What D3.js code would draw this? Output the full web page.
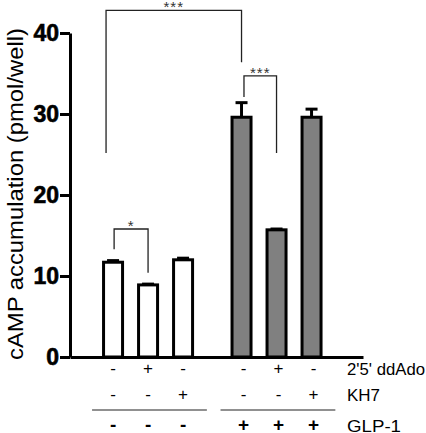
<!DOCTYPE html>
<html>
<head>
<meta charset="utf-8">
<script src="https://d3js.org/d3.v7.min.js"></script>
<style>
  body { margin: 0; background: #fff; }
  text { font-family: "Liberation Sans", Arial, sans-serif; }
</style>
</head>
<body>
<div id="chart"></div>
<script>
// Bar data: group 0 = no GLP-1, group 1 = with GLP-1
const groups = [0, 0, 0, 1, 1, 1];
const means = [11.7, 8.9, 12.0, 29.6, 15.7, 29.6];
const errors = [0.2, 0.1, 0.2, 1.8, 0.1, 1.0];
const yTicks = [0, 10, 20, 30, 40];

// Treatment rows below the axis
const rowNames = ["2'5' ddAdo", "KH7", "GLP-1"];
const ddAdo = ["-", "+", "-", "-", "+", "-"];
const kh7 = ["-", "-", "+", "-", "-", "+"];
const glp1 = ["-", "-", "-", "+", "+", "+"];

// Significance brackets: bar indexes, bracket height and leg ends (in data units)
const brackets = [
    { from: 0, to: 3, level: 42.8, leftEnd: 25.2, rightEnd: 36.4, label: "***", shift: -0.2 },
    { from: 3, to: 4, level: 34.7, leftEnd: 32.1, rightEnd: 25.2, label: "***", shift: 0.07 },
    { from: 0, to: 1, level: 15.8, leftEnd: 13.3, rightEnd: 10.4, label: "*", shift: 0.03 }
];

const width = 426, height = 433;
const svg = d3.select("#chart")
    .append("svg")
    .attr("width", width)
    .attr("height", height);

// slot = bar index plus a gap between the two groups
const groupGap = 0.67;
const slot = i => i + groups[i] * groupGap;

const x = d3.scaleLinear().domain([-1.23, 7.14]).range([70, 363]);
const y = d3.scaleLinear().domain([0, 40]).range([357, 33]);

const barW = 19;

// y axis
const yAxis = svg.append("g")
    .attr("transform", `translate(${x.range()[0]},0)`)
    .call(d3.axisLeft(y).tickValues(yTicks).tickSize(10).tickSizeOuter(0).tickPadding(1));
yAxis.select(".domain").attr("stroke-width", 3);
yAxis.selectAll(".tick line").attr("stroke-width", 3);
yAxis.selectAll(".tick text")
    .attr("font-size", 23)
    .attr("font-weight", "bold")
    .attr("fill", "#000")
    .attr("stroke", "#000")
    .attr("stroke-width", 0.6)
    .attr("font-family", "'Liberation Sans', Arial, sans-serif");

svg.append("text")
    .attr("transform", `translate(23,${(y(0) + 28 + 3) / 2}) rotate(-90)`)
    .attr("text-anchor", "middle")
    .attr("font-size", 21.5)
    .attr("textLength", 332)
    .attr("lengthAdjust", "spacingAndGlyphs")
    .text("cAMP accumulation (pmol/well)");

// bars
svg.append("g")
    .selectAll("rect")
    .data(means)
    .enter()
    .append("rect")
    .attr("x", (d, i) => x(slot(i)) - barW / 2)
    .attr("y", d => y(d))
    .attr("width", barW)
    .attr("height", d => y(0) - y(d))
    .attr("fill", (d, i) => groups[i] ? "#808080" : "#fff")
    .attr("stroke", "#000")
    .attr("stroke-width", 3);

// error bars (upper half only)
const err = svg.append("g").attr("stroke", "#000").attr("stroke-width", 3);
err.selectAll(".stem")
    .data(means)
    .enter()
    .append("line")
    .attr("x1", (d, i) => x(slot(i)))
    .attr("x2", (d, i) => x(slot(i)))
    .attr("y1", d => y(d))
    .attr("y2", (d, i) => y(d + errors[i]));
err.selectAll(".cap")
    .data(means)
    .enter()
    .append("line")
    .attr("x1", (d, i) => x(slot(i)) - 6)
    .attr("x2", (d, i) => x(slot(i)) + 6)
    .attr("y1", (d, i) => y(d + errors[i]))
    .attr("y2", (d, i) => y(d + errors[i]));

// x axis line, no ticks
const xAxis = svg.append("g")
    .attr("transform", `translate(0,${y(0)})`)
    .call(d3.axisBottom(x).tickValues([]).tickSizeOuter(0));
xAxis.select(".domain").attr("stroke-width", 3);

// brackets
const br = svg.append("g");
brackets.forEach(b => {
    const x1 = x(slot(b.from) + b.shift), x2 = x(slot(b.to));
    br.append("path")
        .attr("d", `M${x1},${y(b.leftEnd)}V${y(b.level)}H${x2}V${y(b.rightEnd)}`)
        .attr("fill", "none")
        .attr("stroke", "#222")
        .attr("stroke-width", 1.3);
    br.append("text")
        .attr("x", (x1 + x2) / 2)
        .attr("y", y(b.level) + 2)
        .attr("text-anchor", "middle")
        .attr("font-size", 15)
        .attr("letter-spacing", 1)
        .attr("fill", "#333")
        .text(b.label);
});

// treatment rows
const rows = [
    { signs: ddAdo, base: 374, size: 17, weight: "normal", nameW: 78 },
    { signs: kh7, base: 400, size: 17, weight: "normal", nameW: 33 },
    { signs: glp1, base: 431, size: 19, weight: "bold", nameW: 54 }
];
rows.forEach((r, k) => {
    svg.append("g")
        .selectAll("text")
        .data(r.signs)
        .enter()
        .append("text")
        .attr("x", (d, i) => x(slot(i)) + groups[i] * 2)
        .attr("y", r.base)
        .attr("text-anchor", "middle")
        .attr("font-size", r.size)
        .attr("font-weight", r.weight)
        .text(d => d);
    svg.append("text")
        .attr("x", 347)
        .attr("y", r.base + 1)
        .attr("font-size", 16.5)
        .attr("textLength", r.nameW)
        .attr("lengthAdjust", "spacingAndGlyphs")
        .text(rowNames[k]);
});

// separator lines under the KH7 row, one per group
[0, 1].forEach(g => {
    const idx = d3.range(groups.length).filter(i => groups[i] === g);
    svg.append("line")
        .attr("x1", x(slot(idx[0]) - 0.6))
        .attr("x2", x(slot(idx[idx.length - 1]) + 0.68))
        .attr("y1", 410)
        .attr("y2", 410)
        .attr("stroke", "#222")
        .attr("stroke-width", 1.2);
});
</script>
</body>
</html>
